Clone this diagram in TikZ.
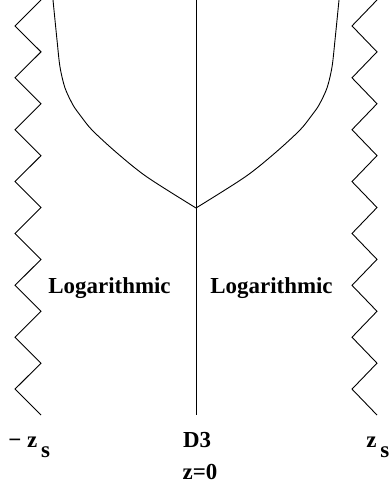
\documentclass[tikz,border=0pt]{standalone}
\usepackage{fontspec}
\setmainfont{Liberation Serif}
\usetikzlibrary{positioning}

\begin{document}
\begin{tikzpicture}[x=1bp, y=-1bp, line width=0.9bp,
    lbl/.style={inner sep=0pt, font=\bfseries\fontsize{23}{27}\selectfont}]
  \useasboundingbox (0,0) rectangle (391,489);

  % singularities at -z_s and z_s
  \draw (41,0) \foreach \i in {1,...,16} { -- ({41-26*mod(\i,2)}, {25.94*\i}) };
  \draw (377,0) \foreach \i in {1,...,16} { -- ({377-25*mod(\i,2)}, {25.94*\i}) };

  % the brane
  \draw (196,0) -- (196,415);

  % profiles
  \draw plot[smooth] coordinates {(53,0) (57,40) (60,67) (65,88) (73,105) (80,115) (92,130) (117,153) (147,177) (196,208)};
  \draw plot[smooth] coordinates {(339,0) (335,40) (332,67) (327,88) (319,105) (312,115) (300,130) (275,153) (245,177) (196,208)};

  \node[lbl, anchor=base west] (logleft) at (48,293) {Logarithmic};
  \node[lbl, anchor=base west] (logright) at (210,293) {Logarithmic};

  \node[lbl, anchor=base west] (zminus) at (8,447) {− z\,\raisebox{-10bp}{s}};
  \node[lbl, anchor=base] (dthree) at (197,447) {D3};
  \node[lbl, anchor=base] (zzero) at (200,479) {z=0};
  \node[lbl, anchor=base west] (zplus) at (366,447) {z\,\raisebox{-10bp}{s}};
\end{tikzpicture}
\end{document}
